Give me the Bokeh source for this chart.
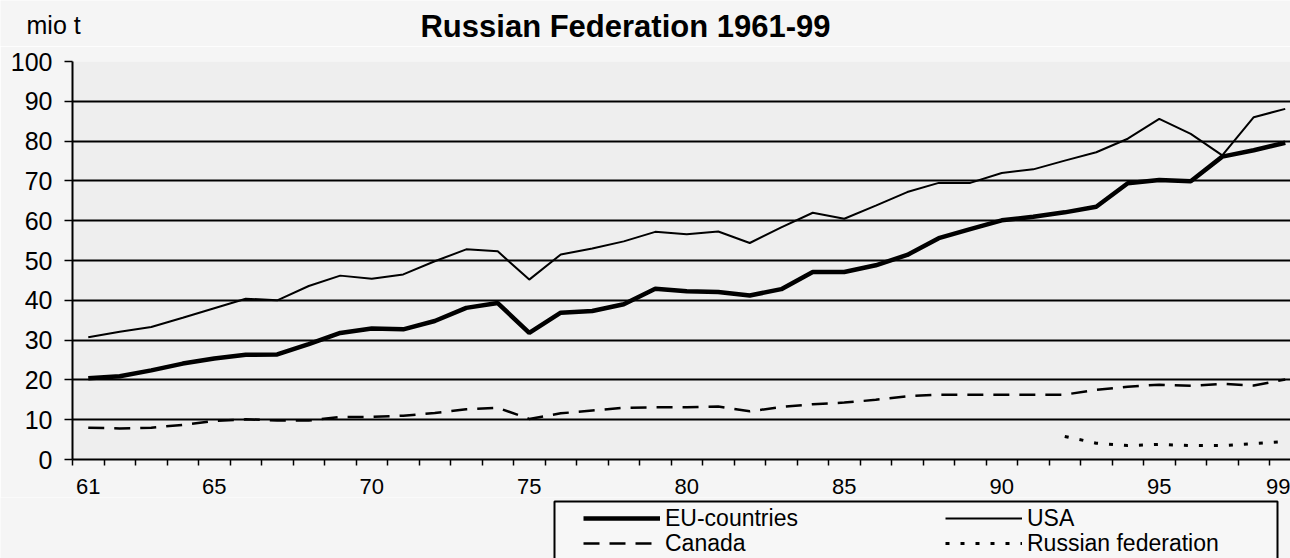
from bokeh.plotting import figure
from bokeh.layouts import column
from bokeh.models import (Range1d, FixedTicker, Legend, LegendItem, Label, BoxAnnotation)
from bokeh.embed import file_html
from bokeh.resources import INLINE

# ---------------- data (million tonnes) ----------------
years = [61, 62, 63, 64, 65, 66, 67, 68, 69, 70, 71, 72, 73, 74, 75, 76, 77, 78, 79, 80,
         81, 82, 83, 84, 85, 86, 87, 88, 89, 90, 91, 92, 93, 94, 95, 96, 97, 98, 99]
eu = [20.4, 20.9, 22.4, 24.1, 25.4, 26.3, 26.4, 29.0, 31.8, 32.9, 32.7, 34.8, 38.1, 39.3, 31.8,
      36.9, 37.3, 39.0, 42.9, 42.3, 42.1, 41.2, 42.8, 47.1, 47.1, 48.8, 51.4, 55.6, 57.9, 60.1,
      61.0, 62.1, 63.5, 69.4, 70.2, 69.9, 76.1, 77.7, 79.6]
usa = [30.7, 32.1, 33.3, 35.6, 38.0, 40.4, 40.0, 43.6, 46.2, 45.4, 46.5, 49.8, 52.8, 52.3, 45.2,
       51.5, 53.0, 54.8, 57.2, 56.6, 57.3, 54.4, 58.3, 62.0, 60.5, 63.8, 67.2, 69.5, 69.5, 72.0,
       72.9, 75.1, 77.2, 80.6, 85.6, 81.8, 76.4, 86.0, 88.1]
canada = [8.0, 7.8, 8.0, 8.7, 9.7, 10.1, 9.8, 9.8, 10.7, 10.7, 11.0, 11.7, 12.6, 13.0, 10.2,
          11.6, 12.3, 13.0, 13.1, 13.1, 13.3, 12.1, 13.2, 13.9, 14.3, 15.0, 15.9, 16.3, 16.3, 16.3,
          16.3, 16.3, 17.5, 18.3, 18.8, 18.5, 19.0, 18.6, 20.1]
russia_years = [92, 93, 94, 95, 96, 97, 98, 99]
russia = [5.8, 4.1, 3.5, 3.8, 3.5, 3.5, 4.0, 4.5]

x_tick_labels = [61, 65, 70, 75, 80, 85, 90, 95, 99]
y_ticks = [0, 10, 20, 30, 40, 50, 60, 70, 80, 90, 100]

title_text = "Russian Federation 1961-99"
unit_text = "mio t"
legend_labels = ["EU-countries", "USA", "Canada", "Russian federation"]

FONT = "Liberation Sans"
BORDER_BG = "#f5f5f5"
PLOT_BG = "#eeeeee"

STY = {
    "EU-countries": dict(line_color="black", line_width=4.5),
    "USA": dict(line_color="black", line_width=2),
    "Canada": dict(line_color="black", line_width=2.5, line_dash="16 10"),
    "Russian federation": dict(line_color="black", line_width=3, line_dash="4 11"),
}

# ---------------- layout sizes (page pixels) ----------------
W = 1290
TOTAL_H = 558
TOP_H = 46
LEFT = 72
MAIN_TOP = 15
FRAME_H = 398
MAIN_BOTTOM = 38
MAIN_H = MAIN_TOP + FRAME_H + MAIN_BOTTOM
LEG_H = TOTAL_H - TOP_H - MAIN_H
PX_PER_YEAR = 31.5
X0 = years[0] - 0.5


def strip(height):
    f = figure(width=W, height=height, output_backend="svg", toolbar_location=None,
               x_range=Range1d(0, W), y_range=Range1d(0, height),
               x_axis_type=None, y_axis_type=None, frame_align=False,
               min_border_left=0, min_border_right=0, min_border_top=0, min_border_bottom=0)
    f.background_fill_color = BORDER_BG
    f.border_fill_color = BORDER_BG
    f.outline_line_color = None
    f.grid.visible = False
    return f

# ---------------- top strip: title + unit ----------------
top = strip(TOP_H)
top.add_layout(Label(x=625, y=TOP_H - 26, text=title_text, text_font=FONT,
                     text_font_size="31px", text_font_style="bold", text_align="center",
                     text_baseline="middle", text_color="black"))
top.add_layout(Label(x=26, y=TOP_H - 24, text=unit_text, text_font=FONT,
                     text_font_size="25px", text_align="left",
                     text_baseline="middle", text_color="black"))

# ---------------- main chart ----------------
p = figure(width=W, height=MAIN_H, output_backend="svg", toolbar_location=None,
           x_range=Range1d(X0, X0 + (W - LEFT) / PX_PER_YEAR), y_range=Range1d(0, 100),
           min_border_left=LEFT, min_border_right=0, min_border_top=MAIN_TOP,
           min_border_bottom=MAIN_BOTTOM, frame_align=False)
p.background_fill_color = PLOT_BG
p.border_fill_color = BORDER_BG
p.outline_line_color = None

xa = p.xaxis[0]
xa.ticker = FixedTicker(ticks=x_tick_labels,
                        minor_ticks=[y - 0.5 for y in years] + [years[-1] + 0.5])
xa.major_tick_out = 0
xa.major_tick_in = 0
xa.minor_tick_out = 6
xa.minor_tick_in = 0
xa.minor_tick_line_color = "black"
xa.minor_tick_line_width = 1.5
xa.axis_line_width = 2
xa.axis_line_color = "black"
xa.major_label_standoff = 13
xa.major_label_text_font = FONT
xa.major_label_text_font_size = "22px"
xa.major_label_text_color = "black"

ya = p.yaxis[0]
ya.ticker = FixedTicker(ticks=y_ticks)
ya.major_tick_out = 8
ya.major_tick_in = 0
ya.minor_tick_out = 0
ya.minor_tick_in = 0
ya.major_tick_line_color = "black"
ya.major_tick_line_width = 1.5
ya.axis_line_width = 2
ya.axis_line_color = "black"
ya.major_label_standoff = 12
ya.major_label_text_font = FONT
ya.major_label_text_font_size = "25px"
ya.major_label_text_color = "black"

p.xgrid.grid_line_color = None
p.ygrid.ticker = FixedTicker(ticks=y_ticks[1:])
p.ygrid.grid_line_color = "black"
p.ygrid.grid_line_width = 1.8

p.line(years, eu, **STY["EU-countries"])
p.line(years, usa, **STY["USA"])
p.line(years, canada, **STY["Canada"])
p.line(russia_years, russia, **STY["Russian federation"])

# ---------------- legend strip ----------------
leg = strip(LEG_H)
leg_top_page = TOP_H + MAIN_H
leg.add_layout(BoxAnnotation(left=554, right=1277, top=LEG_H - (501 - leg_top_page), bottom=-30,
                             fill_color="#f7f7f7", fill_alpha=1.0,
                             line_color="black", line_alpha=1.0, line_width=2))

ROW_H = 28
col_x = {"EU-countries": 583, "Canada": 583, "USA": 945, "Russian federation": 945}
row_c = {"EU-countries": 518, "USA": 518, "Canada": 543, "Russian federation": 543}
NAN = float("nan")
for name in legend_labels:
    r = leg.line([NAN], [NAN], **STY[name])
    c_local = row_c[name] - leg_top_page
    lg = Legend(items=[LegendItem(label=name, renderers=[r])],
                location=(col_x[name], int(round(LEG_H - c_local - ROW_H / 2))),
                padding=0, margin=0, spacing=0,
                border_line_color=None, background_fill_alpha=0,
                glyph_width=77, glyph_height=ROW_H, label_height=ROW_H, label_standoff=5,
                label_text_font=FONT, label_text_font_size="23px",
                label_text_color="black")
    leg.add_layout(lg, "center")

layout = column(top, p, leg, spacing=0)
open("out.html", "w").write(file_html(layout, INLINE))
